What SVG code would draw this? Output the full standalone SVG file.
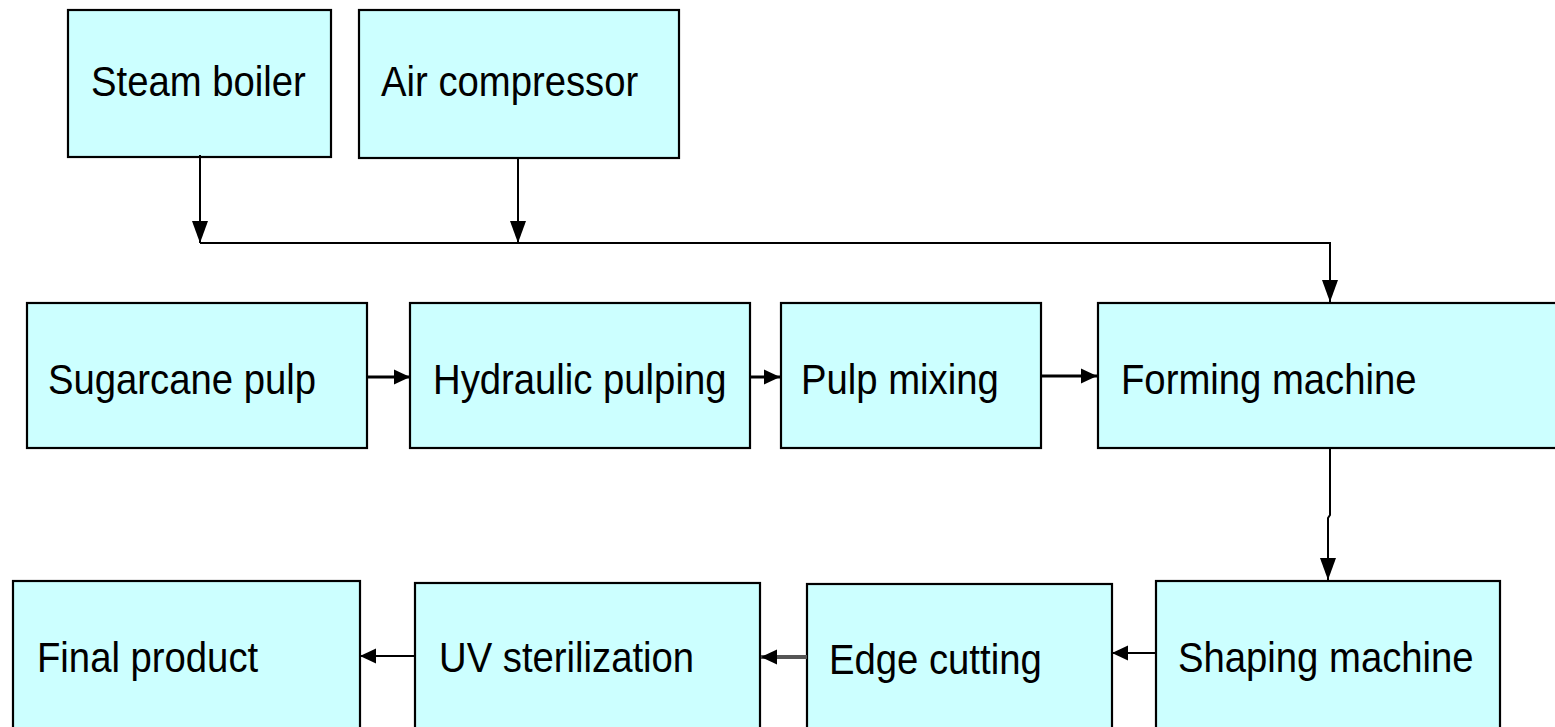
<svg xmlns="http://www.w3.org/2000/svg" width="1555" height="727" viewBox="0 0 1555 727">
<style>
.box{fill:#CCFFFF;stroke:#000;stroke-width:2.2}
.lbl{font-family:"Liberation Sans",Arial,sans-serif;font-size:43px;fill:#000}
.ln{fill:none;stroke:#000;stroke-width:2}
.thk{fill:none;stroke:#000;stroke-width:3}
.gry{fill:none;stroke:#555;stroke-width:4}
</style>
<defs>
<marker id="av" markerUnits="userSpaceOnUse" markerWidth="22" markerHeight="22" refX="22" refY="8" orient="auto" viewBox="0 0 22 16">
<path d="M0,0 L22,8 L0,16 z" fill="#000"/>
</marker>
<marker id="ah" markerUnits="userSpaceOnUse" markerWidth="16" markerHeight="16" refX="16" refY="7.5" orient="auto" viewBox="0 0 16 15">
<path d="M0,0 L16,7.5 L0,15 z" fill="#000"/>
</marker>
</defs>
<rect width="1555" height="727" fill="#fff"/>
<g id="steam-boiler"><rect class="box" x="68" y="10" width="263" height="147"/><text class="lbl" transform="matrix(0.89 0 0 1 91 96)">Steam boiler</text></g>
<g id="air-compressor"><rect class="box" x="359" y="10" width="320" height="148"/><text class="lbl" transform="matrix(0.89 0 0 1 381 96)">Air compressor</text></g>
<g id="sugarcane-pulp"><rect class="box" x="27" y="303" width="340" height="145"/><text class="lbl" transform="matrix(0.89 0 0 1 48 394)">Sugarcane pulp</text></g>
<g id="hydraulic-pulping"><rect class="box" x="410" y="303" width="340" height="145"/><text class="lbl" transform="matrix(0.89 0 0 1 433 394)">Hydraulic pulping</text></g>
<g id="pulp-mixing"><rect class="box" x="781" y="303" width="260" height="145"/><text class="lbl" transform="matrix(0.89 0 0 1 801 394)">Pulp mixing</text></g>
<g id="forming-machine"><rect class="box" x="1098" y="303" width="470" height="145"/><text class="lbl" transform="matrix(0.89 0 0 1 1121 394)">Forming machine</text></g>
<g id="final-product"><rect class="box" x="13" y="581" width="347" height="160"/><text class="lbl" transform="matrix(0.89 0 0 1 37 672)">Final product</text></g>
<g id="uv-sterilization"><rect class="box" x="415" y="583" width="345" height="160"/><text class="lbl" transform="matrix(0.89 0 0 1 439 672)">UV sterilization</text></g>
<g id="edge-cutting"><rect class="box" x="807" y="584" width="305" height="160"/><text class="lbl" transform="matrix(0.89 0 0 1 829 674)">Edge cutting</text></g>
<g id="shaping-machine"><rect class="box" x="1156" y="581" width="344" height="160"/><text class="lbl" transform="matrix(0.89 0 0 1 1178 672)">Shaping machine</text></g>
<g id="connectors">
<path class="ln" d="M200,155 V243" marker-end="url(#av)"/>
<path class="ln" d="M518,158 V243" marker-end="url(#av)"/>
<path class="ln" d="M200,243 H1330 V302" marker-end="url(#av)"/>
<path class="thk" d="M367,377 H410" marker-end="url(#ah)"/>
<path class="thk" d="M750,377 H780" marker-end="url(#ah)"/>
<path class="thk" d="M1041,376 H1097" marker-end="url(#ah)"/>
<path class="ln" d="M1330,448 V515 L1328,518 V580" marker-end="url(#av)"/>
<path class="ln" d="M1156,653 H1112" marker-end="url(#ah)"/>
<path class="gry" d="M807,657 H761" marker-end="url(#ah)"/>
<path class="ln" d="M415,656 H360" marker-end="url(#ah)"/>
</g>
</svg>
